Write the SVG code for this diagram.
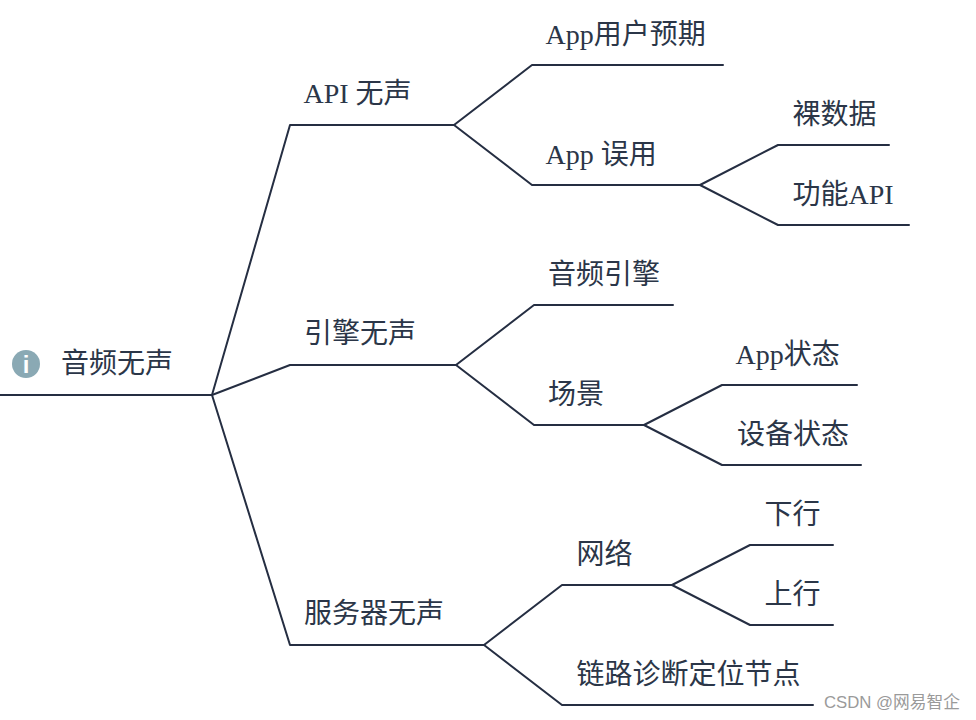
<svg xmlns="http://www.w3.org/2000/svg" width="976" height="720" viewBox="0 0 976 720">
<style>
.c{fill:none;stroke:#252e42;stroke-width:2;stroke-linejoin:round;stroke-linecap:round}
text{font-family:"Liberation Serif","Noto Sans CJK SC",serif;font-size:28px;fill:#2b3648}
.w{font-family:"Liberation Sans","Noto Sans CJK SC",sans-serif;font-size:16.5px;fill:#9a9a9a}
</style>
<rect width="976" height="720" fill="#fff"/>
<g id="connectors">
<path class="c" d="M0 395H212"/>
<path class="c" d="M212 395L290 125H454"/>
<path class="c" d="M212 395L290 365H456"/>
<path class="c" d="M212 395L290 645H484"/>
<path class="c" d="M454 125L532 65H723"/>
<path class="c" d="M454 125L532 185H700"/>
<path class="c" d="M700 185L778 145H889"/>
<path class="c" d="M700 185L778 225H909"/>
<path class="c" d="M456 365L534 305H673"/>
<path class="c" d="M456 365L534 425H644"/>
<path class="c" d="M644 425L722 385H857"/>
<path class="c" d="M644 425L722 465H861"/>
<path class="c" d="M484 645L562 585H672"/>
<path class="c" d="M484 645L562 705H813"/>
<path class="c" d="M672 585L750 545H833"/>
<path class="c" d="M672 585L750 625H833"/>
</g>
<g id="root"><circle cx="26" cy="364" r="14" fill="#8aa9b4"/><text x="26" y="373" text-anchor="middle" style="font-family:'Liberation Sans',sans-serif;font-size:24px;font-weight:bold;fill:#fff">i</text><text x="61" y="373">音频无声</text></g>
<g id="n1"><text x="303.500" y="103">API 无声</text></g>
<g id="n2"><text x="304" y="343">引擎无声</text></g>
<g id="n3"><text x="304" y="623">服务器无声</text></g>
<g id="n4"><text x="545.500" y="44">App用户预期</text></g>
<g id="n5"><text x="545.500" y="164">App 误用</text></g>
<g id="n6"><text x="792.500" y="124">裸数据</text></g>
<g id="n7"><text x="792.500" y="204">功能API</text></g>
<g id="n8"><text x="548" y="284">音频引擎</text></g>
<g id="n9"><text x="548" y="404">场景</text></g>
<g id="n10"><text x="735.500" y="364">App状态</text></g>
<g id="n11"><text x="737" y="444">设备状态</text></g>
<g id="n12"><text x="576.500" y="564">网络</text></g>
<g id="n13"><text x="764.500" y="524">下行</text></g>
<g id="n14"><text x="764.500" y="604">上行</text></g>
<g id="n15"><text x="576.500" y="684">链路诊断定位节点</text></g>
<text class="w" x="824" y="708" textLength="136" lengthAdjust="spacingAndGlyphs">CSDN @网易智企</text>
</svg>
